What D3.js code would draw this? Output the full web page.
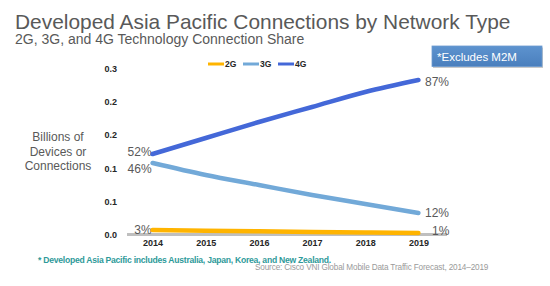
<!DOCTYPE html>
<html>
<head>
<meta charset="utf-8">
<script src="https://cdn.jsdelivr.net/npm/d3@7"></script>
<style>
  body { margin: 0; background: #fff; }
  text { font-family: "Liberation Sans", Arial, sans-serif; }
</style>
</head>
<body>
<div id="chart"></div>
<script>
// data (billions of connections)
var years = ["2014", "2015", "2016", "2017", "2018", "2019"];
var series = ["2G", "3G", "4G"];
var values2G = [0.0075, 0.0065, 0.0055, 0.0045, 0.0037, 0.003];
var values3G = [0.108, 0.090, 0.075, 0.060, 0.0465, 0.033];
var values4G = [0.1215, 0.1455, 0.1695, 0.192, 0.2145, 0.2325];
var startLabels = ["3%", "46%", "52%"];
var endLabels = ["1%", "12%", "87%"];
var yTicks = [0, 0.05, 0.10, 0.15, 0.20, 0.25];
var yTickLabels = ["0.0", "0.1", "0.1", "0.2", "0.2", "0.3"];

var width = 550, height = 286;
var colors = { "2G": "#ffb400", "3G": "#72a9d8", "4G": "#4468d8" };

var svg = d3.select("#chart")
  .append("svg")
    .attr("width", width)
    .attr("height", height);

// titles
svg.append("text")
  .attr("x", 15).attr("y", 28.5)
  .style("font-size", "20.9px")
  .style("fill", "#595959")
  .text("Developed Asia Pacific Connections by Network Type");

svg.append("text")
  .attr("x", 15).attr("y", 44)
  .style("font-size", "14px")
  .style("fill", "#595959")
  .text("2G, 3G, and 4G Technology Connection Share");

// "Excludes M2M" box
var grad = svg.append("defs").append("linearGradient")
  .attr("id", "boxGrad").attr("x1", 0).attr("y1", 0).attr("x2", 0).attr("y2", 1);
grad.append("stop").attr("offset", "0%").attr("stop-color", "#5d93cf");
grad.append("stop").attr("offset", "100%").attr("stop-color", "#4a7fbd");

svg.append("rect")
  .attr("x", 433).attr("y", 47.5)
  .attr("width", 110).attr("height", 20.5)
  .attr("fill", "#c9c9c9");
svg.append("rect")
  .attr("x", 432).attr("y", 46)
  .attr("width", 110).attr("height", 20.5)
  .attr("fill", "url(#boxGrad)")
  .attr("stroke", "#6d9bd0").attr("stroke-width", 0.8);
svg.append("text")
  .attr("x", 437).attr("y", 60.5)
  .style("font-size", "11.5px")
  .style("fill", "#fff")
  .text("*Excludes  M2M");

// scales
var x = d3.scalePoint()
  .domain(years)
  .range([126, 445])
  .padding(0.5);

var y = d3.scaleLinear()
  .domain([0, 0.25])
  .range([235, 68.3]);

// y axis (labels only)
var yAxis = svg.append("g")
  .attr("transform", "translate(117,0)")
  .call(d3.axisLeft(y)
    .tickValues(yTicks)
    .tickSize(0)
    .tickPadding(0)
    .tickFormat(function(d, i) { return yTickLabels[i]; }));
yAxis.select(".domain").remove();
yAxis.selectAll("text")
  .style("font-family", "'Liberation Sans', Arial, sans-serif")
  .style("font-size", "9px")
  .style("font-weight", "bold")
  .style("fill", "#262626");

// y title
svg.append("text")
  .attr("text-anchor", "middle")
  .style("font-size", "12px")
  .style("fill", "#595959")
  .selectAll("tspan")
  .data(["Billions of", "Devices  or", "Connections"])
  .enter().append("tspan")
    .attr("x", 58)
    .attr("y", function(d, i) { return 141 + i * 14.5; })
    .text(function(d) { return d; });

// baseline
svg.append("line")
  .attr("x1", 127).attr("x2", 447)
  .attr("y1", y(0) - 0.5).attr("y2", y(0) - 0.5)
  .attr("stroke", "#bfbfbf")
  .attr("stroke-width", 3);

// x axis
var xAxis = svg.append("g")
  .attr("transform", "translate(0," + (y(0) + 2) + ")")
  .call(d3.axisBottom(x).tickSize(0).tickPadding(3));
xAxis.select(".domain").remove();
xAxis.selectAll("text")
  .style("font-family", "'Liberation Sans', Arial, sans-serif")
  .style("font-size", "9px")
  .style("font-weight", "bold")
  .style("fill", "#262626");

// lines
var seriesData = [values2G, values3G, values4G];
var line = d3.line()
  .x(function(d, i) { return x(years[i]); })
  .y(function(d) { return y(d); })
  .curve(d3.curveMonotoneX);

// data labels (drawn under the lines)
var startOffsets = [4, 10, 2];
var endOffsets = [2, 4, 6];
svg.selectAll(".startLabel")
  .data(seriesData)
  .enter()
  .append("text")
    .attr("x", x(years[0]) - 1)
    .attr("y", function(d, i) { return y(d[0]) + startOffsets[i]; })
    .attr("text-anchor", "end")
    .style("font-size", "12px")
    .style("fill", "#595959")
    .text(function(d, i) { return startLabels[i]; });

svg.selectAll(".endLabel")
  .data(seriesData)
  .enter()
  .append("text")
    .attr("x", function(d, i) { return i === 0 ? 432 : 425; })
    .attr("y", function(d, i) { return y(d[5]) + endOffsets[i]; })
    .style("font-size", "12px")
    .style("fill", "#595959")
    .text(function(d, i) { return endLabels[i]; });

svg.selectAll(".series")
  .data(seriesData)
  .enter()
  .append("path")
    .attr("class", "series")
    .attr("d", line)
    .attr("fill", "none")
    .attr("stroke", function(d, i) { return colors[series[i]]; })
    .attr("stroke-width", 4.5)
    .attr("stroke-linecap", "round");

// legend
var legend = svg.selectAll(".legend")
  .data(series)
  .enter()
  .append("g")
    .attr("transform", function(d, i) { return "translate(" + (208 + i * 35) + ",64)"; });
legend.append("line")
  .attr("x1", 0).attr("x2", 16)
  .attr("stroke", function(d) { return colors[d]; })
  .attr("stroke-width", 3);
legend.append("text")
  .attr("x", 17).attr("y", 3)
  .style("font-size", "8.5px")
  .style("font-weight", "bold")
  .style("fill", "#262626")
  .text(function(d) { return d; });

// footnotes
svg.append("text")
  .attr("x", 38).attr("y", 263)
  .style("font-size", "8.6px")
  .style("font-weight", "bold")
  .style("fill", "#2e9a9a")
  .style("letter-spacing", "-0.25px")
  .text("*  Developed Asia Pacific includes Australia, Japan, Korea, and New Zealand.");

svg.append("text")
  .attr("x", 255).attr("y", 270)
  .style("font-size", "8.2px")
  .style("fill", "#9a9a9a")
  .style("letter-spacing", "-0.15px")
  .text("Source: Cisco VNI Global Mobile Data Traffic Forecast, 2014\u20132019");
</script>
</body>
</html>
